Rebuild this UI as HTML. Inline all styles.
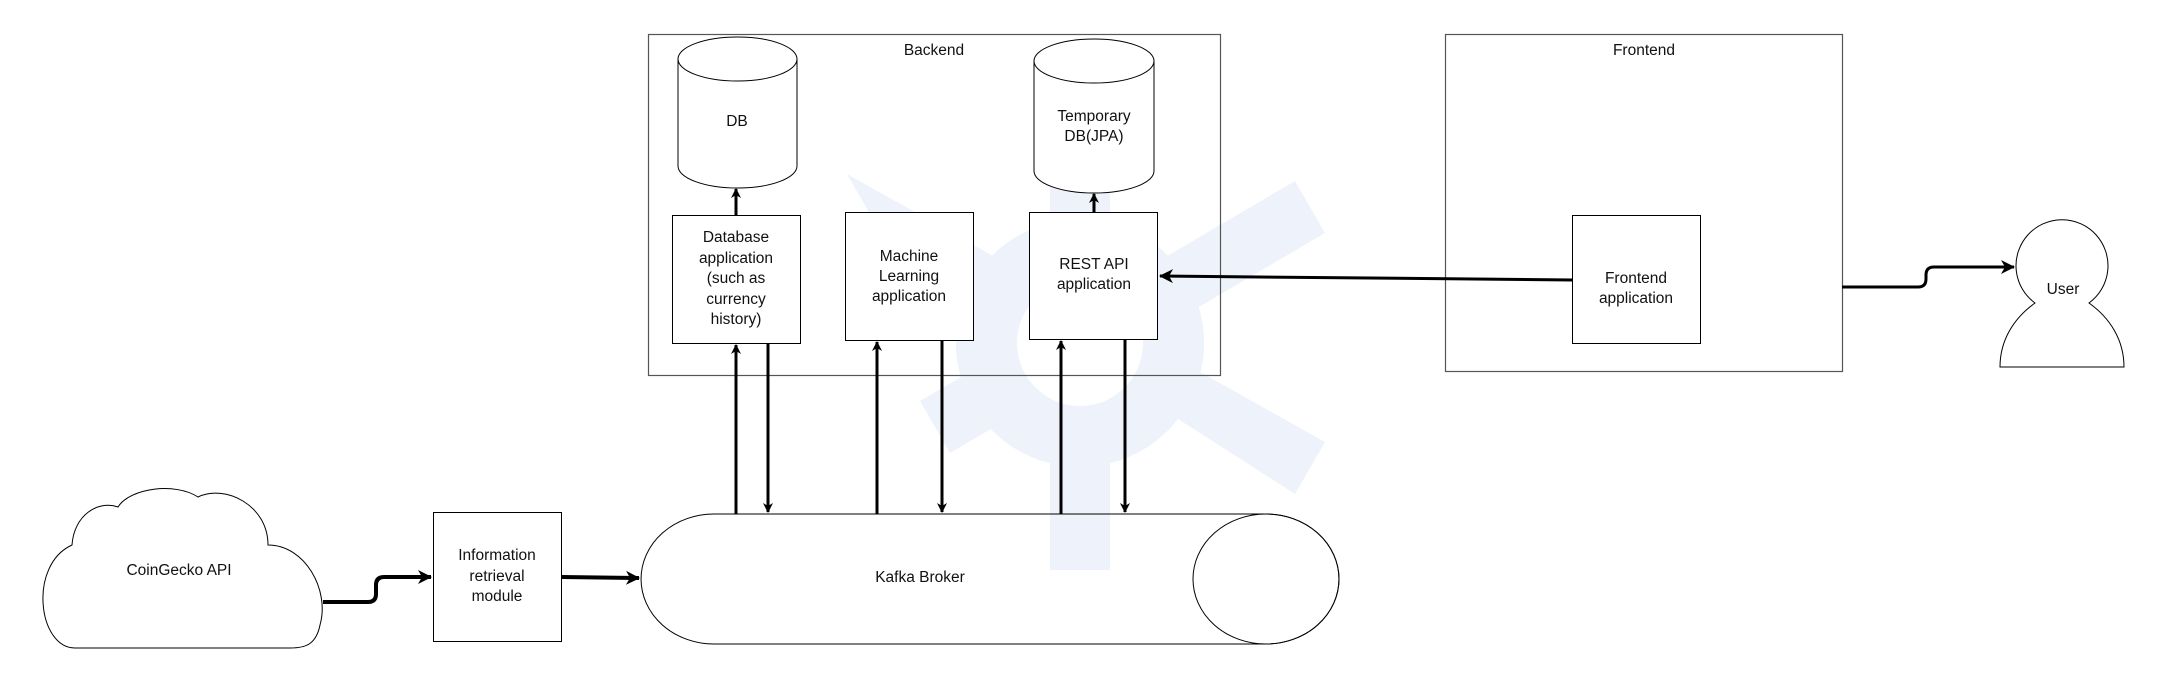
<!DOCTYPE html>
<html><head><meta charset="utf-8"><style>
html,body{margin:0;padding:0;background:#fff;}
svg{display:block;}
text{font-family:"Liberation Sans",sans-serif;font-size:15.5px;fill:#111;text-anchor:middle;dominant-baseline:middle;}
</style></head><body>
<svg width="2160" height="684" viewBox="0 0 2160 684" xmlns="http://www.w3.org/2000/svg">
<defs>
<marker id="ah" markerWidth="10" markerHeight="10" refX="9" refY="5" orient="auto" markerUnits="userSpaceOnUse">
<path d="M0,0 L10,5 L0,10 L3,5 Z" fill="#000"/>
</marker>
<marker id="ah2" markerWidth="14" markerHeight="14" refX="13" refY="7" orient="auto" markerUnits="userSpaceOnUse">
<path d="M0,0 L14,7 L0,14 L4,7 Z" fill="#000"/>
</marker>
</defs>
<!-- watermark -->
<g fill="#eef2fa" stroke="none">
<circle cx="1080" cy="343" r="124"/>
<rect x="1050" y="150" width="60" height="420"/>
<polygon points="847,174 877,226 1295,494 1325,442 "/>
<polygon points="1295,181 1325,233 950,453 920,401"/>
</g>
<circle cx="1080" cy="343" r="63" fill="#fff"/>
<rect x="1050" y="150" width="60" height="130" fill="#eef2fa"/>

<!-- Backend -->
<rect x="648.5" y="34.5" width="572" height="341" fill="none" stroke="#555" stroke-width="1.2"/>
<text x="934" y="51">Backend</text>
<!-- DB cylinder -->
<path d="M678,59 A59.5,22 0 0 1 797,59 L797,166 A59.5,22 0 0 1 678,166 Z" fill="#fff" stroke="#000" stroke-width="1"/>
<path d="M678,59 A59.5,22 0 0 0 797,59" fill="none" stroke="#000" stroke-width="1"/>
<text x="737" y="122">DB</text>
<!-- Temp DB -->
<path d="M1034,61 A60,22 0 0 1 1154,61 L1154,171 A60,22 0 0 1 1034,171 Z" fill="#fff" stroke="#000" stroke-width="1"/>
<path d="M1034,61 A60,22 0 0 0 1154,61" fill="none" stroke="#000" stroke-width="1"/>
<text x="1094" y="117">Temporary</text>
<text x="1094" y="137">DB(JPA)</text>

<!-- boxes -->
<rect x="672.5" y="215.5" width="128" height="128" fill="#fff" stroke="#000"/>
<text x="736" y="238">Database</text><text x="736" y="259">application</text><text x="736" y="279">(such as</text><text x="736" y="300">currency</text><text x="736" y="320">history)</text>
<rect x="845.5" y="212.5" width="128" height="128" fill="#fff" stroke="#000"/>
<text x="909" y="257">Machine</text><text x="909" y="277">Learning</text><text x="909" y="297">application</text>
<rect x="1029.5" y="212.5" width="128" height="127" fill="#fff" stroke="#000"/>
<text x="1094" y="265">REST API</text><text x="1094" y="285">application</text>

<!-- small arrows to DBs -->
<line x1="736" y1="215" x2="736" y2="189" stroke="#000" stroke-width="3" marker-end="url(#ah)"/>
<line x1="1094" y1="212" x2="1094" y2="194" stroke="#000" stroke-width="3" marker-end="url(#ah)"/>

<!-- vertical arrows -->
<g stroke="#000" stroke-width="3" fill="none">
<line x1="736" y1="514" x2="736" y2="345" marker-end="url(#ah)"/>
<line x1="768" y1="344" x2="768" y2="512" marker-end="url(#ah)"/>
<line x1="877" y1="514" x2="877" y2="342" marker-end="url(#ah)"/>
<line x1="942" y1="341" x2="942" y2="512" marker-end="url(#ah)"/>
<line x1="1061" y1="514" x2="1061" y2="341" marker-end="url(#ah)"/>
<line x1="1125" y1="340" x2="1125" y2="512" marker-end="url(#ah)"/>
</g>

<!-- Kafka -->
<path d="M714,514 L1266,514 A73,65 0 0 1 1266,644 L714,644 A73,65 0 0 1 714,514 Z" fill="none" stroke="#000" stroke-width="1"/>
<ellipse cx="1266" cy="579" rx="73" ry="65" fill="none" stroke="#000" stroke-width="1"/>
<text x="920" y="578">Kafka Broker</text>

<!-- Info module -->
<rect x="433.5" y="512.5" width="128" height="129" fill="#fff" stroke="#000"/>
<text x="497" y="556">Information</text><text x="497" y="577">retrieval</text><text x="497" y="597">module</text>

<!-- Cloud -->
<path d="M75,648 C38,648 28,565 72,545 C74,515 98,500 118,507 C130,488 175,482 198,497 C225,484 268,505 268,545 C305,545 330,590 320,625 C316,645 305,648 290,648 Z" fill="#fff" stroke="#000" stroke-width="1"/>
<text x="179" y="571">CoinGecko API</text>

<!-- Cloud -> info -->
<path d="M323,602 L368,602 Q376,602 376,594 L376,585 Q376,577 384,577 L431,577" fill="none" stroke="#000" stroke-width="4" marker-end="url(#ah2)"/>
<!-- info -> kafka -->
<line x1="562" y1="577" x2="639" y2="578" stroke="#000" stroke-width="4" marker-end="url(#ah2)"/>

<!-- Frontend -->
<rect x="1445.5" y="34.5" width="397" height="337" fill="none" stroke="#555" stroke-width="1.2"/>
<text x="1644" y="51">Frontend</text>
<rect x="1572.5" y="215.5" width="128" height="128" fill="#fff" stroke="#000"/>
<text x="1636" y="279">Frontend</text><text x="1636" y="299">application</text>
<line x1="1572" y1="280" x2="1160" y2="276" stroke="#000" stroke-width="3" marker-end="url(#ah2)"/>

<!-- frontend -> user -->
<path d="M1842,287 L1918,287 Q1926,287 1926,279 L1926,275 Q1926,267 1934,267 L2014,267" fill="none" stroke="#000" stroke-width="3" marker-end="url(#ah2)"/>

<!-- User -->
<path d="M2035,303 A46,46 0 1 1 2089,303 C2110,318 2124,340 2124,367 L2000,367 C2000,340 2014,318 2035,303 Z" fill="#fff" stroke="#000" stroke-width="1"/>
<text x="2063" y="290">User</text>
</svg>
</body></html>
